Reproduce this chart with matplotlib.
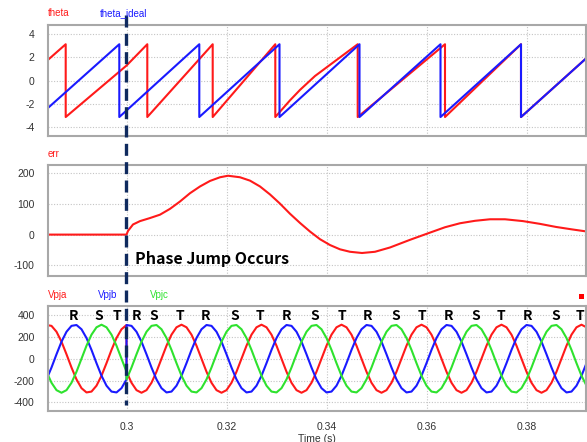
import numpy as np
import matplotlib
matplotlib.use("Agg")
import matplotlib.pyplot as plt
from matplotlib.lines import Line2D
from matplotlib.patches import Rectangle

# ---- theta panel [rad]: sawtooth vertices
theta_t = [0.2840, 0.28784, 0.28784, 0.3000, 0.30416, 0.30416, 0.31724, 0.31724,
           0.32976, 0.32976, 0.3327, 0.3347, 0.3377, 0.34624, 0.34624,
           0.3637, 0.3637, 0.3789, 0.3789, 0.3920]
theta_v = [1.68, 3.14, -3.14, 1.30, 3.14, -3.14, 3.14, -3.14,
           3.14, -3.14, -1.70, -0.80, 0.40, 3.14, -3.14,
           3.14, -3.14, 3.14, -3.14, 1.95]

ideal_t = [0.2840, 0.29856, 0.29856, 0.31456, 0.31456, 0.3306, 0.3306,
           0.3466, 0.3466, 0.3628, 0.3628, 0.3789, 0.3789, 0.3920]
ideal_v = [-2.47, 3.14, -3.14, 3.14, -3.14, 3.14, -3.14,
           3.14, -3.14, 3.14, -3.14, 3.14, -3.14, 1.95]

# ---- err panel
err_t = [0.2840, 0.3000, 0.3003, 0.3013, 0.3027, 0.3047, 0.3067, 0.3087, 0.3107,
         0.3127, 0.3147, 0.3167, 0.3187, 0.3203, 0.3227, 0.3247, 0.3267, 0.3287,
         0.3307, 0.3327, 0.3347, 0.3367, 0.3387, 0.3407, 0.3427, 0.3447, 0.3471,
         0.3497, 0.3527, 0.3567, 0.3601, 0.3637, 0.3667, 0.3697, 0.3727, 0.3757,
         0.3793, 0.3827, 0.3859, 0.3891, 0.3921]
err_v = [0, 0, 12, 33, 44, 54, 65, 84, 108,
         135, 157, 175, 187, 192, 187, 176, 157, 131,
         101, 68, 38, 10, -15, -34, -48, -56, -60,
         -56, -42, -17, 3, 24, 37, 45, 50, 50,
         44, 35, 25, 17, 10]

# ---- phase voltages [V], sampled every 1 ms
t_pre_start, t_post_start, dt = 0.284, 0.300, 0.001
vpja_pre = [308.3, 300.4, 246.7, 155.5, 40.6, -80.5, -189.3, -269.3,
            -308.3, -300.4, -246.7, -155.5, -40.6, 80.5, 189.3, 269.3, 308.3]
vpjb_pre = [-189.3, -80.5, 40.6, 155.5, 246.7, 300.4, 308.3, 269.3,
            189.3, 80.5, -40.6, -155.5, -246.7, -300.4, -308.3, -269.3, -189.3]
vpjc_pre = [-119.0, -219.9, -287.3, -311.0, -287.3, -219.9, -119.0, 0.0,
            119.0, 219.9, 287.3, 311.0, 287.3, 219.9, 119.0, 0.0, -119.0]

vpja_post = [-119.0, -219.9, -287.3, -311.0, -287.3, -219.9, -119.0, 0.0, 119.0, 219.9, 287.3, 311.0, 287.3, 219.9, 119.0, 0.0,
             -119.0, -219.9, -287.3, -311.0, -287.3, -219.9, -119.0, 0.0, 119.0, 219.9, 287.3, 311.0, 287.3, 219.9, 119.0, 0.0,
             -119.0, -219.9, -287.3, -311.0, -287.3, -219.9, -119.0, 0.0, 119.0, 219.9, 287.3, 311.0, 287.3, 219.9, 119.0, 0.0,
             -119.0, -219.9, -287.3, -311.0, -287.3, -219.9, -119.0, 0.0, 119.0, 219.9, 287.3, 311.0, 287.3, 219.9, 119.0, 0.0,
             -119.0, -219.9, -287.3, -311.0, -287.3, -219.9, -119.0, 0.0, 119.0, 219.9, 287.3, 311.0, 287.3, 219.9, 119.0, 0.0,
             -119.0, -219.9, -287.3, -311.0, -287.3, -219.9, -119.0, 0.0, 119.0, 219.9, 287.3, 311.0, 287.3]
vpjb_post = [308.3, 300.4, 246.7, 155.5, 40.6, -80.5, -189.3, -269.3, -308.3, -300.4, -246.7, -155.5, -40.6, 80.5, 189.3, 269.3,
             308.3, 300.4, 246.7, 155.5, 40.6, -80.5, -189.3, -269.3, -308.3, -300.4, -246.7, -155.5, -40.6, 80.5, 189.3, 269.3,
             308.3, 300.4, 246.7, 155.5, 40.6, -80.5, -189.3, -269.3, -308.3, -300.4, -246.7, -155.5, -40.6, 80.5, 189.3, 269.3,
             308.3, 300.4, 246.7, 155.5, 40.6, -80.5, -189.3, -269.3, -308.3, -300.4, -246.7, -155.5, -40.6, 80.5, 189.3, 269.3,
             308.3, 300.4, 246.7, 155.5, 40.6, -80.5, -189.3, -269.3, -308.3, -300.4, -246.7, -155.5, -40.6, 80.5, 189.3, 269.3,
             308.3, 300.4, 246.7, 155.5, 40.6, -80.5, -189.3, -269.3, -308.3, -300.4, -246.7, -155.5, -40.6]
vpjc_post = [-189.3, -80.5, 40.6, 155.5, 246.7, 300.4, 308.3, 269.3, 189.3, 80.5, -40.6, -155.5, -246.7, -300.4, -308.3, -269.3,
             -189.3, -80.5, 40.6, 155.5, 246.7, 300.4, 308.3, 269.3, 189.3, 80.5, -40.6, -155.5, -246.7, -300.4, -308.3, -269.3,
             -189.3, -80.5, 40.6, 155.5, 246.7, 300.4, 308.3, 269.3, 189.3, 80.5, -40.6, -155.5, -246.7, -300.4, -308.3, -269.3,
             -189.3, -80.5, 40.6, 155.5, 246.7, 300.4, 308.3, 269.3, 189.3, 80.5, -40.6, -155.5, -246.7, -300.4, -308.3, -269.3,
             -189.3, -80.5, 40.6, 155.5, 246.7, 300.4, 308.3, 269.3, 189.3, 80.5, -40.6, -155.5, -246.7, -300.4, -308.3, -269.3,
             -189.3, -80.5, 40.6, 155.5, 246.7, 300.4, 308.3, 269.3, 189.3, 80.5, -40.6, -155.5, -246.7]

# R/S/T phase markers above the voltage peaks
rst_labels = ["R", "S", "T", "R", "S", "T", "R", "S", "T", "R", "S", "T", "R", "S", "T",
              "R", "S", "T", "R", "S", "T"]
rst_t = [0.28950, 0.29450, 0.29800, 0.30204, 0.30536, 0.31070, 0.31584, 0.32156, 0.32670,
         0.33204, 0.33770, 0.34304, 0.34816, 0.35390, 0.35904, 0.36436, 0.36984, 0.37484,
         0.38016, 0.38584, 0.39070]

jump_t = 0.3
xlim = (0.28424, 0.3919)
xticks = [0.30, 0.32, 0.34, 0.36, 0.38]
xticklabels = ["0.3", "0.32", "0.34", "0.36", "0.38"]

RED, BLUE, GREEN = "#ff1a1a", "#1a1aff", "#2ee22e"
W, H = 587, 442

def fx(x): return x / W
def fy(y): return 1 - y / H

plt.rcParams["font.family"] = ["Liberation Sans", "DejaVu Sans"]
plt.rcParams["axes.unicode_minus"] = False
fig = plt.figure(figsize=(W / 100, H / 100), dpi=100)

boxes = [(25, 135.7), (165, 276), (306, 411)]
axes = []
for top, bot in boxes:
    ax = fig.add_axes([fx(47.7), fy(bot), fx(586) - fx(47.7), (bot - top) / H])
    ax.set_xlim(*xlim)
    ax.set_xticks(xticks)
    ax.grid(True, color="#c4c4c4", lw=0.8, linestyle=(0, (1, 1.5)))
    ax.set_axisbelow(True)
    ax.tick_params(length=0, pad=9.5, labelsize=7.5, labelcolor="#333333")
    for s in ax.spines.values():
        s.set_color("#a8a8a8")
        s.set_linewidth(1.5)
    axes.append(ax)
ax1, ax2, ax3 = axes

# theta
ax1.plot(theta_t, theta_v, color=RED, lw=1.5)
ax1.plot(ideal_t, ideal_v, color=BLUE, lw=1.5)
ax1.set_ylim(-4.75, 4.8)
ax1.set_yticks([-4, -2, 0, 2, 4])
ax1.set_xticklabels([])

# err
ax2.plot(err_t, err_v, color=RED, lw=1.5)
ax2.set_ylim(-135, 227)
ax2.set_yticks([-100, 0, 100, 200])
ax2.set_xticklabels([])
ax2.text(0.3017, -81, "Phase Jump Occurs", fontsize=11.5, fontweight="bold",
         family=["Noto Sans CJK KR", "DejaVu Sans"], ha="left", va="center", color="black")

# voltages
t_pre = t_pre_start + dt * np.arange(len(vpja_pre))
t_post = t_post_start + dt * np.arange(len(vpja_post))
t_all = np.concatenate([t_pre, t_post])
ax3.plot(t_all, vpja_pre + vpja_post, color=RED, lw=1.5)
ax3.plot(t_all, vpjb_pre + vpjb_post, color=BLUE, lw=1.5)
ax3.plot(t_all, vpjc_pre + vpjc_post, color=GREEN, lw=1.5)
ax3.set_ylim(-478, 482)
ax3.set_yticks([-400, -200, 0, 200, 400])
ax3.set_xticklabels(xticklabels)
ax3.tick_params(axis="x", pad=8)
ax3.set_xlabel("Time (s)", fontsize=7.5, color="#333333", labelpad=1)
for lab, t in zip(rst_labels, rst_t):
    ax3.text(t, 395, lab, fontsize=10, fontweight="bold", family=["Noto Sans CJK KR", "DejaVu Sans"],
             ha="center", va="center", color="black")

# series names above each panel
names = [("theta", 47.7, 13.3, RED), ("theta_ideal", 100, 13.3, BLUE),
         ("err", 47.7, 154, RED),
         ("Vpja", 47.7, 295, RED), ("Vpjb", 98, 295, BLUE), ("Vpjc", 150, 295, GREEN)]
for txt, x, y, c in names:
    fig.text(fx(x), fy(y), txt, fontsize=7, color=c, ha="left", va="center")

# phase-jump marker across all panels
x_jump = 47.7 + (jump_t - xlim[0]) / (xlim[1] - xlim[0]) * (586 - 47.7)
fig.add_artist(Line2D([fx(x_jump), fx(x_jump)], [fy(15), fy(405)], color="#0f2a5e",
                      lw=2.4, linestyle=(0, (3.6, 1.9))))
fig.add_artist(Rectangle((fx(579.2), fy(299.2)), 5 / W, 5 / H, color="#ff0000", lw=0))

fig.savefig("out.png", dpi=100)
